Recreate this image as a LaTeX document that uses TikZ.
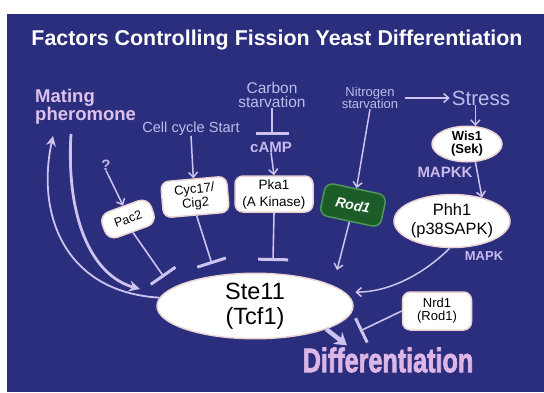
\documentclass[tikz,border=0pt]{standalone}
\usepackage{fontspec}
\setmainfont{Liberation Sans}
\newfontfamily\heavyfont{Liberation Sans Bold}[FakeBold=2.5]
\usepackage{graphicx}
\usetikzlibrary{shapes.geometric,arrows.meta}
\definecolor{bgblue}{RGB}{42,46,124}
\definecolor{lav}{RGB}{205,195,238}
\definecolor{pinklav}{RGB}{222,192,236}
\definecolor{difflav}{RGB}{220,182,230}
\definecolor{txtlav}{RGB}{188,188,236}
\definecolor{boldlav}{RGB}{200,186,236}
\definecolor{boxedge}{RGB}{236,212,212}
\definecolor{rodgreen}{RGB}{28,92,40}
\definecolor{rodedge}{RGB}{80,150,90}
\newcommand{\myfs}[2]{\fontsize{#1}{#2}\selectfont}
\begin{document}
\begin{tikzpicture}[x=1pt,y=-1pt,
  box/.style={draw=boxedge, line width=1.5pt, fill=white, rounded corners=8pt, inner sep=0pt, align=center, text=black},
  oval/.style={ellipse, draw=boxedge, line width=1.5pt, fill=white, inner sep=0pt, align=center, text=black},
  lbl/.style={text=txtlav, align=center, inner sep=0pt},
  act/.style={draw=lav, line width=1.5pt, -{Straight Barb[length=5pt,width=9pt,line width=1.5pt]}},
  inh/.style={draw=lav, line width=1.6pt, -{Bar[width=30pt,line width=3pt]}}
]
\useasboundingbox (0,0) rectangle (544,392);
\fill[white] (0,0) rectangle (544,392);
\fill[bgblue] (7,14) rectangle (544,392);

% title
\node[inner sep=0pt, text=white, font={\myfs{21.4}{24}\bfseries}] (title) at (277,40) {Factors Controlling Fission Yeast Differentiation};

% labels
\node[lbl, text=pinklav, align=left, anchor=west, font={\myfs{18.5}{17}\bfseries}] (mating) at (35,107) {Mating\\pheromone};
\node[lbl, font={\myfs{15.5}{14}}] (carbon) at (272,95) {Carbon\\starvation};
\node[lbl, font={\myfs{13}{12.5}}] (nitro) at (370,98) {Nitrogen\\starvation};
\node[lbl, font={\myfs{20.5}{22}}] (stress) at (481,98) {Stress};
\node[lbl, font={\myfs{14.6}{16}}] (cell) at (191,129) {Cell cycle Start};
\node[lbl, text=boldlav, font={\myfs{15}{16}\bfseries}] (camp) at (271,147) {cAMP};
\node[lbl, text=boldlav, font={\myfs{15}{16}\bfseries}] (q) at (106,165) {?};
\node[lbl, text=boldlav, font={\myfs{15}{16}\bfseries}] (mapkk) at (445,172) {MAPKK};
\node[lbl, text=boldlav, font={\myfs{13}{14}\bfseries}] (mapk) at (484,256) {MAPK};
\node[lbl, text=difflav, font={\myfs{34}{36}\heavyfont}] (diff) at (388,360) {\scalebox{0.74}[1]{Differentiation}};

% boxes
\node[box, minimum width=78pt, minimum height=36pt, font={\myfs{13.5}{17}}] (pka) at (274,194) {Pka1\\(A Kinase)};
\node[box, minimum width=66pt, minimum height=36pt, rotate=5, font={\myfs{13}{14}}] (cyc) at (195,197) {Cyc17/\\Cig2};
\node[box, minimum width=52pt, minimum height=27pt, rounded corners=10pt, rotate=20, font={\myfs{12.5}{14}}] (pac) at (128,219) {Pac2};
\node[box, fill=rodgreen, draw=rodedge, text=white, minimum width=62pt, minimum height=33pt, rotate=-12, font={\myfs{14}{15}\bfseries\itshape}] (rod) at (353,205) {Rod1};
\node[box, minimum width=69pt, minimum height=38pt, font={\myfs{13}{13}}] (nrd) at (437,311) {Nrd1\\(Rod1)};

% ellipses
\node[oval, minimum width=70pt, minimum height=32pt, font={\myfs{13}{13}\bfseries}] (wis) at (467,144) {Wis1\\(Sek)};
\node[oval, minimum width=97pt, minimum height=53pt, font={\myfs{16.4}{19}}] (phh) at (452,221) {Phh1\\(p38SAPK)};
\node[oval, minimum width=196pt, minimum height=55pt, font={\myfs{23.5}{25}}] (ste) at (255,306) {Ste11\\(Tcf1)};

% free ends
\coordinate (cbar) at (272,135);
\coordinate (pacbar) at (164,277);
\coordinate (cycbar) at (212,264);
\coordinate (pkabar) at (273,261);
\coordinate (nrdbar) at (360,331);
\coordinate (rodend) at (337,270);
\coordinate (mpA) at (71,134);
\coordinate (mpB) at (53,136);
\coordinate (mAend) at (140,289);

% activating arrows
\draw[act] ([xshift=7pt]nitro.east) -- ([xshift=-2pt]stress.west);
\draw[act] (stress.south -| wis.65) -- (wis.65);
\draw[act] (wis.-65) -- (phh.38);
\draw[act] (camp.south) -- (pka.north);
\draw[act] (cell.south) -- (cyc.north);
\draw[act] (q.south) -- (pac.north);
\draw[act] (nitro.south) -- (rod.north);
\draw[act] (rod.south) -- (rodend);
\draw[act] (phh.-95) .. controls (430,268) and (395,292) .. ([xshift=6pt,yshift=4pt]ste.6);

% inhibitions
\draw[inh, -{Bar[width=33pt,line width=3pt]}] (carbon.south) -- (cbar);
\draw[inh] (pac.south) -- (pacbar);
\draw[inh] (cyc.south) -- (cycbar);
\draw[inh] (pka.south) -- (pkabar);
\draw[inh, -{Bar[width=27pt,line width=3pt]}] (nrd.west) -- (nrdbar);

% mating pheromone loop
\draw[draw=lav, line width=2.8pt, -{Stealth[length=11pt,width=11pt]}] (mpA) .. controls (66,215) and (90,275) .. (mAend);
\draw[draw=lav, line width=1.8pt, -{Stealth[length=10pt,width=10pt]}] (ste.175) .. controls (65,292) and (36,215) .. (mpB);

% Ste11 -> Differentiation
\draw[draw=lav, line width=4.5pt, -{Stealth[length=12pt,width=15pt]}] (ste.-18) -- ([xshift=-41pt,yshift=2pt]diff.north);
\end{tikzpicture}
\end{document}
